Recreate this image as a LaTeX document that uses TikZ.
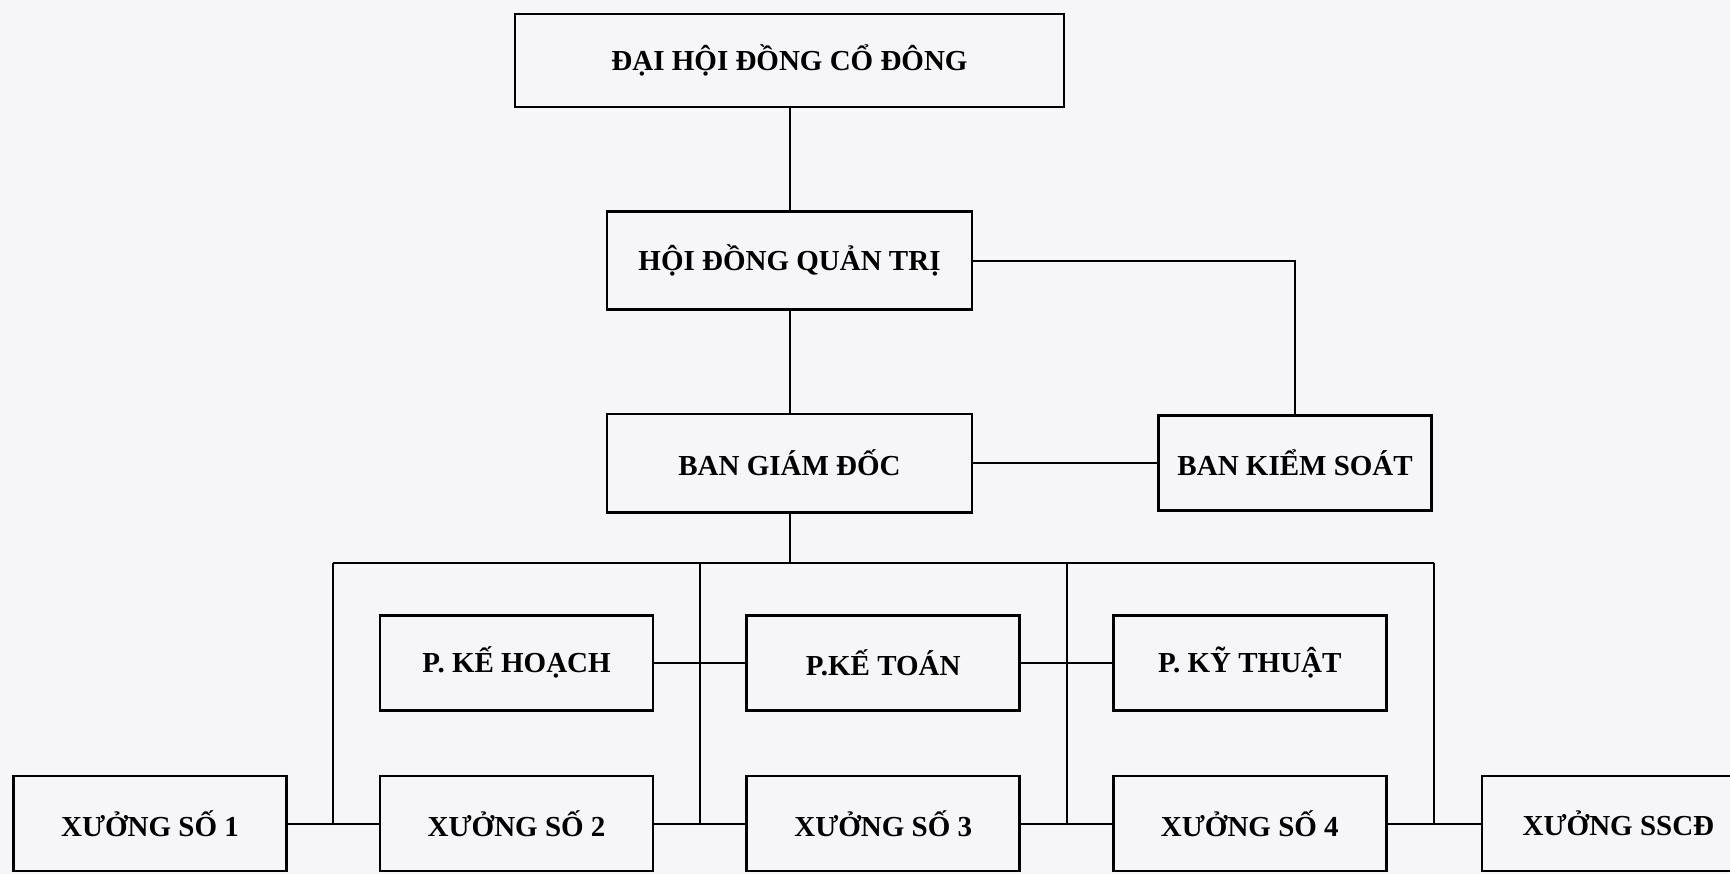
\documentclass[tikz,border=0pt]{standalone}
\usepackage{fontspec}
\setmainfont{Liberation Serif}
\usetikzlibrary{positioning,calc}
\definecolor{paper}{RGB}{246,246,249}
\tikzset{
  unit/.style={draw, line width=2.6pt, minimum width=273pt, minimum height=95pt,
    inner sep=0pt, font=\fontsize{29}{34}\selectfont\bfseries},
  board/.style={unit, minimum width=365pt, minimum height=98pt},
  link/.style={line width=2pt}
}
\begin{document}
\begin{tikzpicture}
    \fill[paper] (0,0) rectangle (1730pt,-874pt);
    \useasboundingbox (0,0) rectangle (1730pt,-874pt);
    \clip (0,0) rectangle (1730pt,-874pt);

    \node[unit, minimum width=549pt, minimum height=93pt] (dhd) at (789.5pt,-60.5pt) {ĐẠI HỘI ĐỒNG CỔ ĐÔNG};
    \node[board, below=102pt of dhd] (hdqt) {HỘI ĐỒNG QUẢN TRỊ};
    \node[board, below=102pt of hdqt] (bgd) {BAN GIÁM ĐỐC};
    \node[unit, right=184pt of bgd] (bks) {BAN KIỂM SOÁT};

    \node[unit] (x1) at (150pt,-823.5pt) {XƯỞNG SỐ 1};
    \node[unit, right=91pt of x1] (x2) {XƯỞNG SỐ 2};
    \node[unit, right=91pt of x2] (x3) {XƯỞNG SỐ 3};
    \node[unit, right=91pt of x3] (x4) {XƯỞNG SỐ 4};
    \node[unit, right=93pt of x4] (x5) {XƯỞNG SSCĐ};
    \node[unit, above=63pt of x2] (pkh) {P. KẾ HOẠCH};
    \node[unit, above=63pt of x3] (pkt) {P.KẾ TOÁN};
    \node[unit, above=63pt of x4] (pkk) {P. KỸ THUẬT};

    \draw[link] (dhd) -- (hdqt);
    \draw[link] (hdqt) -- (bgd);
    \draw[link] (hdqt.east) -| (bks.north);
    \draw[link] (bgd) -- (bks);
    \coordinate[below=49pt of bgd.south] (bus);
    \draw[link] (bgd) -- (bus);
    \foreach \a/\b [count=\i] in {x1/x2, x2/x3, x3/x4, x4/x5} {
        \coordinate (g\i) at ($(\a.east)!0.5!(\b.west)$);
        \draw[link] (\a) -- (\b);
        \draw[link] (g\i |- bus) -- (g\i);
    }
    \draw[link] (g1 |- bus) -- (g4 |- bus);
    \draw[link] (pkh) -- (pkt);
    \draw[link] (pkt) -- (pkk);
\end{tikzpicture}
\end{document}
